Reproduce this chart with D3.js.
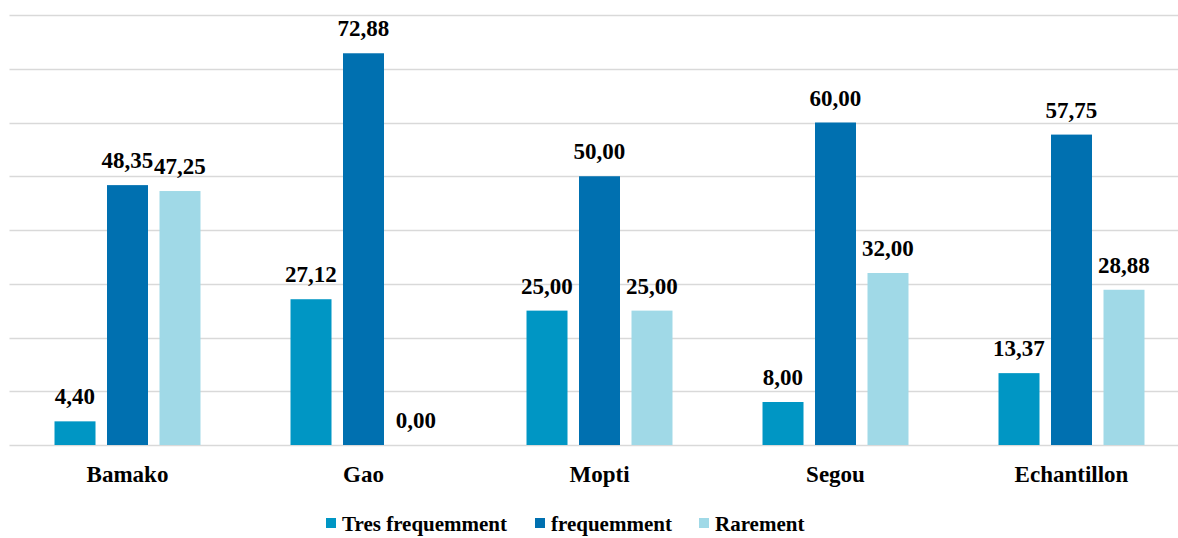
<!DOCTYPE html>
<html><head><meta charset="utf-8">
<script src="https://cdn.jsdelivr.net/npm/d3@7"></script>
<style>body{margin:0;background:#fff;}svg{display:block;} text{font-family:"Liberation Serif","Times New Roman","DejaVu Serif",serif;font-weight:bold;}</style>
</head><body>
<svg id="chart" width="1178" height="538"></svg>
<script>
const categories = ["Bamako","Gao","Mopti","Segou","Echantillon"];
const seriesNames = ["Tres frequemment","frequemment","Rarement"];
const tresFrequemment = [4.40, 27.12, 25.00, 8.00, 13.37];
const frequemment = [48.35, 72.88, 50.00, 60.00, 57.75];
const rarement = [47.25, 0.00, 25.00, 32.00, 28.88];
const yTicks = [0,10,20,30,40,50,60,70,80];
const colors = ["#0096c4","#0070b0","#a0d9e7"];

const seriesValues = [tresFrequemment, frequemment, rarement];
const data = categories.map((c,i)=>({cat:c, vals: seriesNames.map((s,j)=>({s, v: seriesValues[j][i], j}))}));

const svg = d3.select("#chart");
const fmt = v => v.toFixed(2).replace(".", ",");

const y = d3.scaleLinear().domain([0,80]).range([445,15]);
const x0 = d3.scaleBand().domain(categories).range([9.5,1189.5]).paddingInner(0.284).paddingOuter(0.142);
const x1 = d3.scaleBand().domain(seriesNames).range([0,x0.bandwidth()]).padding(0.219);

svg.append("g").selectAll("line").data(yTicks).join("line")
  .attr("x1",9.5).attr("x2",1189.5)
  .attr("y1",d=>Math.round(y(d))+0.5).attr("y2",d=>Math.round(y(d))+0.5)
  .attr("stroke","#d9d9d9").attr("stroke-width",1.5);

const g = svg.append("g").selectAll("g").data(data).join("g")
  .attr("transform",d=>`translate(${x0(d.cat)},0)`);

g.selectAll("rect").data(d=>d.vals).join("rect")
  .attr("x",d=>x1(d.s)).attr("width",x1.bandwidth())
  .attr("y",d=>y(d.v)).attr("height",d=>y(0)-y(d.v))
  .attr("fill",d=>colors[d.j]);

g.selectAll("text").data(d=>d.vals).join("text")
  .attr("x",d=>x1(d.s)+x1.bandwidth()/2)
  .attr("y",d=>y(d.v)-17)
  .attr("text-anchor","middle")
  .style("font-size","23px").attr("fill","#000")
  .text(d=>fmt(d.v));

svg.append("g").selectAll("text").data(categories).join("text")
  .attr("x",d=>x0(d)+x0.bandwidth()/2).attr("y",482)
  .attr("text-anchor","middle")
  .style("font-size","23px").attr("fill","#000")
  .text(d=>d);

const legendX = [326,535,699];
const lg = svg.append("g").selectAll("g").data(seriesNames).join("g")
  .attr("transform",(d,i)=>`translate(${legendX[i]},518)`);
lg.append("rect").attr("width",10).attr("height",10).attr("fill",(d,i)=>colors[i]);
lg.append("text").attr("x",16).attr("y",13)
  .style("font-size","21px").attr("fill","#000")
  .text(d=>d);
</script>
</body></html>
